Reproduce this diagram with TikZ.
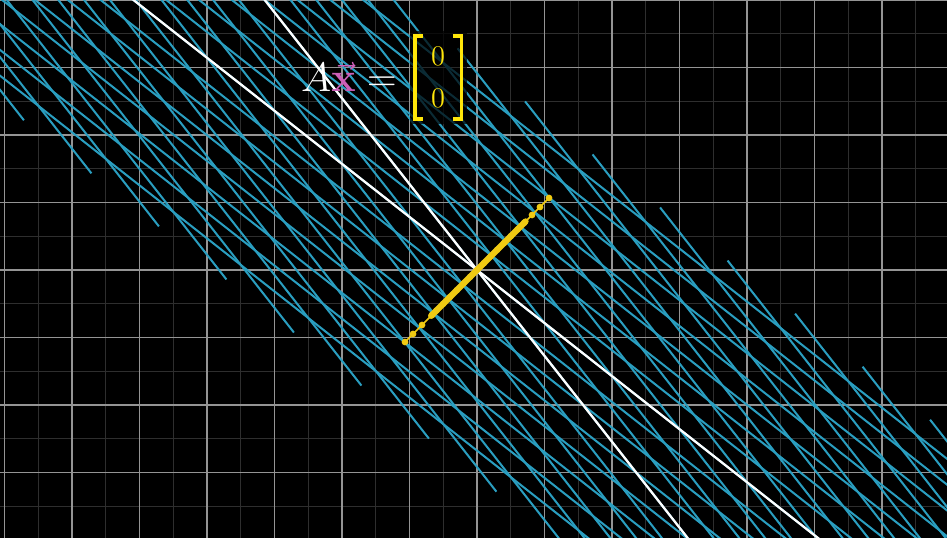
\documentclass[tikz,border=0pt]{standalone}
\usepackage{amsmath}
\definecolor{gridmain}{HTML}{949494}
\definecolor{gridminor}{HTML}{2E2E2E}
\definecolor{lineblue}{HTML}{2A9EC0}
\definecolor{nullyellow}{HTML}{F0CA12}
\definecolor{brkyellow}{HTML}{FFE60A}
\definecolor{xpink}{HTML}{CC5FB8}
\tikzset{
  minorgrid/.style={draw=gridminor, line width=0.4pt},
  maingrid/.style={draw=gridmain, line width=0.45pt},
  blueline/.style={draw=lineblue, line width=0.85pt},
  whiteline/.style={draw=white, line width=0.95pt},
  nullthin/.style={draw=nullyellow, line width=0.6pt},
  nullthick/.style={draw=nullyellow, line width=2.6pt, line cap=round},
  nulldot/.style={fill=nullyellow},
  bracket/.style={draw=brkyellow, line width=1.3pt, line cap=butt, line join=miter},
  entry/.style={text=brkyellow, inner sep=0pt, font=\fontsize{12.5}{14}\selectfont}
}
\begin{document}
\begin{tikzpicture}[x=1cm,y=1cm]
\def\tshear{0.786}
\fill[black] (-7.0667,-3.9704) rectangle (6.963,4.0);
\useasboundingbox (-7.0667,-3.9704) rectangle (6.963,4.0);
\clip (-7.0667,-3.9704) rectangle (6.963,4.0);
% background grid
\draw[minorgrid, step=0.5] (-7.5,-4.5) grid (7.5,4.5);
\draw[maingrid, step=1] (-7.5,-4.5) grid (7.5,4.5);
% transformed grid
\begin{scope}[cm={1,-\tshear,-\tshear,1,(0,0)}]
  \foreach \k in {-14,...,14} \draw[blueline] (\k,-8) -- (\k,8);
  \foreach \k in {-7,...,7} \draw[blueline] (-14.2,\k) -- (14.2,\k);
  \draw[whiteline] (-14.2,0) -- (14.2,0);
  \draw[whiteline] (0,-8) -- (0,8);
\end{scope}
% null space
\coordinate (nA) at (-1.067,-1.067);
\coordinate (nB) at (1.067,1.067);
\draw[nullthin] (nA) -- (nB);
\draw[nullthick] (-0.68,-0.68) -- (0.72,0.72);
\foreach \d in {-1.067,-0.948,-0.815,-0.667,0.815,0.933,1.067}
  \fill[nulldot] (\d,\d) circle (0.05);
\foreach \d in {-0.6,-0.5,...,0.71}
  \fill[nulldot] (\d,\d) circle (0.048);
% equation
\fill[black, opacity=0.72] (-1.0,2.17) rectangle (-0.15,3.54);
\node[anchor=base east, inner sep=0pt, text=white, font=\fontsize{18.5}{22}\selectfont] (eq) at (-1.185,2.637) {$A\textcolor{xpink}{\vec{\mathbf{x}}}=$};
\draw[bracket] (-0.80,3.467) -- (-0.919,3.467) -- (-0.919,2.237) -- (-0.80,2.237);
\draw[bracket] (-0.356,3.467) -- (-0.2296,3.467) -- (-0.2296,2.237) -- (-0.356,2.237);
\node[entry] (z1) at (-0.578,3.17) {$0$};
\node[entry] (z2) at (-0.578,2.548) {$0$};
\end{tikzpicture}
\end{document}
